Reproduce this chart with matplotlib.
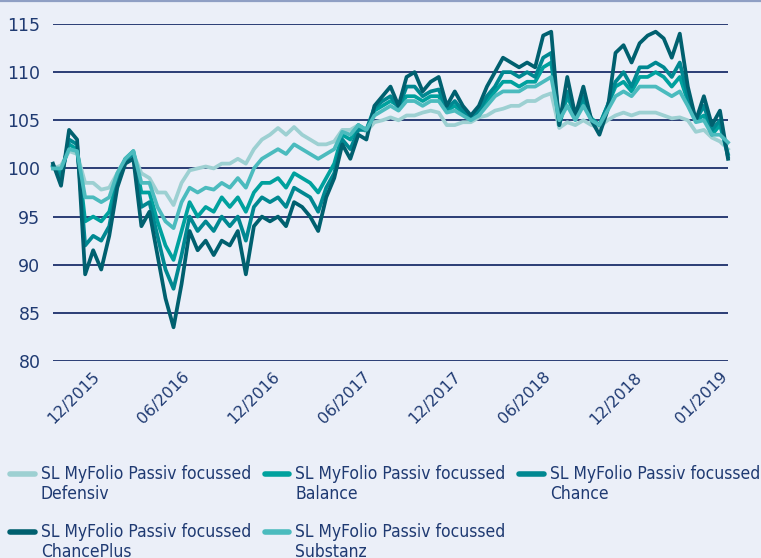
import matplotlib
matplotlib.use("Agg")
import matplotlib.pyplot as plt
from matplotlib import font_manager
from matplotlib.legend_handler import HandlerLine2D

# values, one point every ~8 px
chanceplus = [100.5, 98.2, 104, 103, 89, 91.5, 89.5, 93, 98, 100.5,
              101, 94, 95.5, 91, 86.5, 83.5, 88, 93.5, 91.5, 92.5,
              91, 92.5, 92, 93.5, 89, 94, 95, 94.5, 95, 94,
              96.5, 96, 95, 93.5, 97, 99, 102.5, 101, 103.5, 103,
              106.5, 107.5, 108.5, 106.5, 109.5, 110, 108, 109, 109.5, 106.5,
              108, 106.5, 105.5, 106.5, 108.5, 110, 111.5, 111, 110.5, 111,
              110.5, 113.8, 114.2, 104.5, 109.5, 105.5, 108.5, 105, 103.5, 106,
              112, 112.8, 111, 113, 113.8, 114.2, 113.5, 111.5, 114, 108.5,
              105, 107.5, 104.5, 106, 101]
chance = [100.3, 99, 103, 102.5, 92, 93, 92.5, 94, 98.5, 100.8,
          101.5, 96, 96.5, 93, 89.5, 87.5, 91, 95, 93.5, 94.5,
          93.5, 95, 94, 95, 92.5, 96, 97, 96.5, 97, 96,
          98, 97.5, 97, 95.5, 98, 99.5, 103, 102, 104, 104,
          106.3, 107, 107.5, 106.3, 108.5, 108.5, 107.5, 108, 108.2, 106.2,
          107, 106, 105.3, 106, 107.5, 108.5, 110, 110, 109.5, 110,
          109.5, 111.5, 112, 105, 108, 105.5, 107.5, 105, 104.5, 106.5,
          109, 110, 108.5, 110.5, 110.5, 111, 110.5, 109.5, 111, 107.5,
          105, 106.5, 104, 105, 101.2]
balance = [100.2, 99.5, 102.5, 102, 94.5, 95, 94.5, 95.5, 99, 101,
           101.8, 97.5, 97.5, 94.5, 92, 90.5, 93.5, 96.5, 95, 96,
           95.5, 97, 96, 97, 95.5, 97.5, 98.5, 98.5, 99, 98,
           99.5, 99, 98.5, 97.5, 99, 100.5, 103.5, 103, 104.5, 104,
           106, 106.5, 107, 106.5, 107.5, 107.5, 107, 107.5, 107.5, 106,
           106.5, 105.8, 105.3, 105.5, 107, 108, 109, 109, 108.5, 109,
           109, 110.5, 111, 104.5, 107.5, 105.5, 107, 105.2, 104.5, 106.5,
           108.5, 109, 108, 109.5, 109.5, 110, 109.5, 108.5, 109.5, 107,
           105, 105.5, 103.5, 104.5, 101.5]
substanz = [100, 100, 102, 101.8, 97, 97, 96.5, 97, 99.5, 101,
            101.8, 98.5, 98.5, 96, 94.5, 93.8, 96.5, 98, 97.5, 98,
            97.8, 98.5, 98, 99, 98, 100, 101, 101.5, 102, 101.5,
            102.5, 102, 101.5, 101, 101.5, 102, 103.8, 103.5, 104.5, 104,
            105.5, 106, 106.5, 106, 107, 107, 106.5, 107, 107, 105.8,
            106, 105.5, 105, 105.5, 106.5, 107.5, 108, 108, 108, 108.5,
            108.5, 109, 109.5, 105, 106.5, 105, 106.5, 105, 104.5, 106,
            107.5, 108, 107.5, 108.5, 108.5, 108.5, 108, 107.5, 108, 106.5,
            104.8, 105, 103.5, 103.5, 102.7]
defensiv = [100, 100.3, 101.8, 101.5, 98.5, 98.5, 97.8, 98, 99.5, 101,
            101.5, 99.5, 99, 97.5, 97.5, 96.2, 98.5, 99.8, 100, 100.2,
            100, 100.5, 100.5, 101, 100.5, 102, 103, 103.5, 104.2, 103.5,
            104.3, 103.5, 103, 102.5, 102.5, 102.8, 104, 104, 104.5, 103.8,
            104.8, 105, 105.3, 105, 105.5, 105.5, 105.8, 106, 105.8, 104.5,
            104.5, 104.8, 104.8, 105.3, 105.5, 106, 106.2, 106.5, 106.5, 107,
            107, 107.5, 107.8, 104.2, 104.8, 104.5, 105, 104.5, 104.3, 105,
            105.5, 105.8, 105.5, 105.8, 105.8, 105.8, 105.5, 105.2, 105.3, 105,
            103.8, 104, 103.2, 102.8, 102]

tick_labels = ["12/2015", "06/2016", "12/2016", "06/2017",
               "12/2017", "06/2018", "12/2018", "01/2019"]
tick_pos = [4.8, 16.0, 27.3, 38.5, 49.8, 61.0, 72.3, 83.0]
y_ticks = [80, 85, 90, 95, 100, 105, 110, 115]

labels = ["SL MyFolio Passiv focussed\nDefensiv",
          "SL MyFolio Passiv focussed\nBalance",
          "SL MyFolio Passiv focussed\nChance",
          "SL MyFolio Passiv focussed\nChancePlus",
          "SL MyFolio Passiv focussed\nSubstanz"]
colors = ["#9dd0d2", "#00a19e", "#008891", "#00606f", "#4bbbbe"]
series = [defensiv, balance, chance, chanceplus, substanz]

bg = "#ebeff8"
navy = "#1f3a72"

# condensed face for the legend if there is one
condensed = any(f.name == "DejaVu Sans" and f.stretch == "condensed"
                for f in font_manager.fontManager.ttflist)
if condensed:
    legend_prop = {"family": "DejaVu Sans", "stretch": "condensed", "size": 12.5}
else:
    legend_prop = {"family": "Liberation Sans", "size": 12.5}


class TopLine(HandlerLine2D):
    # put the legend swatch level with the first text line
    def create_artists(self, legend, orig_handle, xdescent, ydescent,
                       width, height, fontsize, trans):
        arts = super().create_artists(legend, orig_handle, xdescent, ydescent,
                                      width, height, fontsize, trans)
        for a in arts:
            a.set_ydata([y + 0.62 * fontsize for y in a.get_ydata()])
        return arts


fig = plt.figure(figsize=(7.61, 5.58), dpi=100, facecolor=bg)
ax = fig.add_axes([53 / 761, 1 - 361 / 558, 675 / 761, 337 / 558])
ax.set_facecolor(bg)

x = list(range(len(defensiv)))
lines = {}
draw_order = [0, 4, 1, 2, 3]
for k in draw_order:
    ln, = ax.plot(x, series[k], color=colors[k], lw=2.7, label=labels[k],
                  clip_on=False, solid_joinstyle="round", zorder=3 + k * 0.1)
    lines[k] = ln

ax.set_xlim(0, len(defensiv) - 1)
ax.set_ylim(80, 115)
ax.set_yticks(y_ticks)
ax.yaxis.grid(True, color="#1b2f6b", lw=1.3)
ax.set_axisbelow(True)
for s in ax.spines.values():
    s.set_visible(False)
ax.tick_params(length=0, colors=navy)
ax.tick_params(axis="y", pad=9, labelsize=12.5)
ax.tick_params(axis="x", pad=6, labelsize=11.5)
ax.set_xticks(tick_pos)
ax.set_xticklabels(tick_labels, rotation=45, ha="right", rotation_mode="anchor")

# thin border at the top of the figure
fig.add_artist(plt.Line2D([0, 1], [0.998, 0.998], color="#8f9fc4", lw=1.6,
                          transform=fig.transFigure))

order = [0, 3, 1, 4, 2]
leg = fig.legend([lines[k] for k in order], [labels[k] for k in order],
                 loc="upper left", bbox_to_anchor=(-0.007, 1 - 449 / 558),
                 ncol=3, frameon=False, handlelength=1.4, handletextpad=0.35,
                 columnspacing=0.8, labelspacing=1.1, prop=legend_prop,
                 handler_map={plt.Line2D: TopLine()})
for t in leg.get_texts():
    t.set_color(navy)
for h in leg.legend_handles:
    h.set_linewidth(4)
    h.set_solid_capstyle("round")

fig.savefig("out.png", dpi=100, facecolor=bg)
